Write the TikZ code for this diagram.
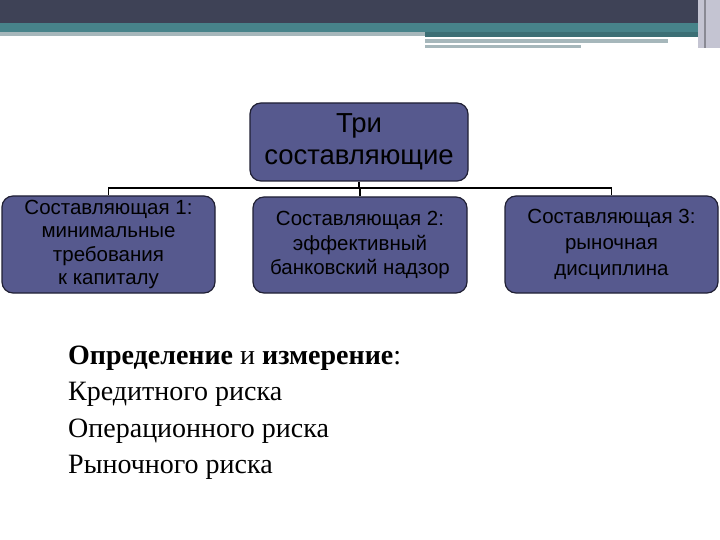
\documentclass[tikz,border=0pt]{standalone}
\usepackage{fontspec}
\setmainfont{Liberation Serif}
\newfontfamily\boxfont{Liberation Sans}
\usetikzlibrary{positioning}

\definecolor{bandDark}{RGB}{62,66,86}
\definecolor{bandTeal}{RGB}{71,131,138}
\definecolor{bandGray}{RGB}{166,183,187}
\definecolor{bandSide}{RGB}{196,196,210}
\definecolor{boxfill}{RGB}{86,89,142}
\definecolor{boxline}{RGB}{32,32,52}

\begin{document}
\begin{tikzpicture}[x=1pt, y=-1pt,
  part/.style={rectangle, draw=boxline, fill=boxfill, rounded corners=11pt,
               line width=1.2pt, align=center, text=black, inner sep=0pt,
               font=\boxfont\fontsize{20.5}{23.5}\selectfont},
  headpart/.style={part, font=\boxfont\fontsize{27.5}{32}\selectfont},
  link/.style={line width=1.6pt, black},
  risk/.style={anchor=base west, inner sep=0pt,
               font=\fontsize{28}{34}\selectfont}
]
\useasboundingbox (0,0) rectangle (720,540);

% title band
\fill[bandDark] (0,0) rectangle (720,23);
\fill[bandTeal] (0,23) rectangle (720,32);
\fill[bandGray] (0,32) rectangle (425,36);
\fill[bandTeal!85!black] (425,32) rectangle (700,37);
\fill[bandGray] (425,39) rectangle (668,43);
\fill[bandGray] (425,45) rectangle (581,48);
\fill[bandSide] (698,0) rectangle (720,48);
\fill[bandSide!70!black] (704,0) rectangle (706,48);

% boxes
\node[headpart, minimum width=218pt, minimum height=78pt] (top) at (359,142)
  {Три\\составляющие};
\node[part, minimum width=213pt, minimum height=97pt] (b1) at (108.5,244.5)
  {Составляющая 1:\\минимальные\\требования\\к капиталу};
\node[part, minimum width=214pt, minimum height=96pt,
      font=\boxfont\fontsize{20.5}{24.5}\selectfont] (b2) at (360,245)
  {Составляющая 2:\\эффективный\\банковский надзор};
\node[part, minimum width=213pt, minimum height=97pt,
      font=\boxfont\fontsize{20.5}{26}\selectfont] (b3) at (611.5,244.5)
  {Составляющая 3:\\рыночная\\дисциплина};

% connectors
\coordinate (bus) at (360,188);
\draw[link] (top.south) -- (top.south |- bus);
\draw[link] (b1.north) -- (b1.north |- bus) -- (b3.north |- bus) -- (b3.north);
\draw[link] (b2.north) -- (b2.north |- bus);

% risks
\node[risk] (r0) at (68,364) {\textbf{Определение} и \textbf{измерение}:};
\node[risk] (r1) at (68,400) {Кредитного риска};
\node[risk] (r2) at (68,437) {Операционного риска};
\node[risk] (r3) at (68,473) {Рыночного риска};
\end{tikzpicture}
\end{document}
